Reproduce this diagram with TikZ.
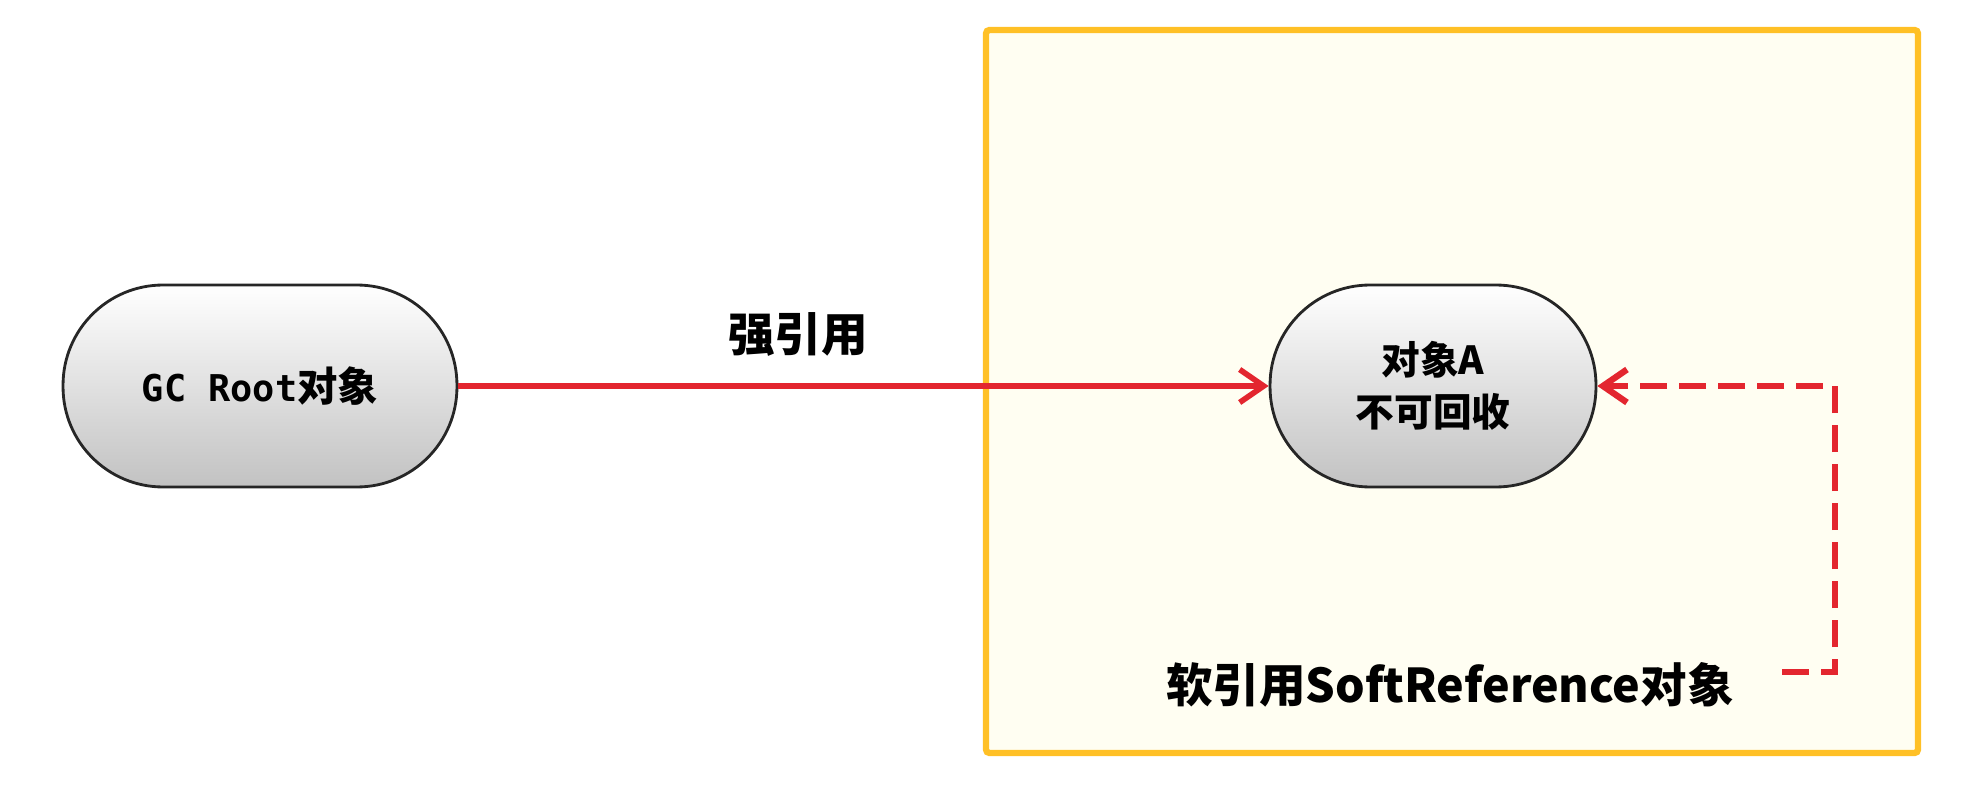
\documentclass[tikz,border=0pt]{standalone}
\usepackage{fontspec}
\setmainfont{Noto Sans CJK SC}
\newfontfamily\gcmono{DejaVu Sans Mono}
\usetikzlibrary{arrows.meta}
\definecolor{refred}{HTML}{E3262F}
\definecolor{boxline}{HTML}{FFC026}
\definecolor{boxfill}{HTML}{FFFEF2}

\begin{document}
\begin{tikzpicture}[x=0.02cm,y=-0.02cm,font=\bfseries,
  objnode/.style={draw=black!85,line width=1.6pt,rounded corners=2cm,minimum height=4.04cm,
    top color=white,bottom color=black!24,align=center,inner sep=0pt},
  refline/.style={draw=refred,line width=3.2pt,-{Straight Barb[length=0.48cm,width=0.66cm]}}]
 \useasboundingbox (0,0) rectangle (1977,800);
 \draw[boxline,fill=boxfill,line width=3.6pt,rounded corners=2pt] (986,30) rectangle (1918,753);
 \node[objnode,minimum width=7.88cm,font=\bfseries\fontsize{23}{28}\selectfont] (gcroot) at (260,386)
  {{\gcmono\fontsize{21}{28}\selectfont GC Root}对象};
 \node[objnode,minimum width=6.52cm,font=\bfseries\fontsize{22}{29.5}\selectfont] (objA) at (1433,386)
  {对象A\\不可回收};
 \node[font=\bfseries\fontsize{26.5}{30}\selectfont] (strong) at (798,334) {强引用};
 \node[font=\bfseries\fontsize{26.5}{30}\selectfont] (soft) at (1450,685) {软引用SoftReference对象};
 \coordinate (dashend) at (1782,672);\coordinate (dashcorner) at (1835,386);
 \draw[refline] (gcroot) -- (objA);
 \draw[refline,line width=3.6pt,dash pattern=on 0.54cm off 0.24cm] (dashend) -| (dashcorner) -- (objA.east);
\end{tikzpicture}
\end{document}
